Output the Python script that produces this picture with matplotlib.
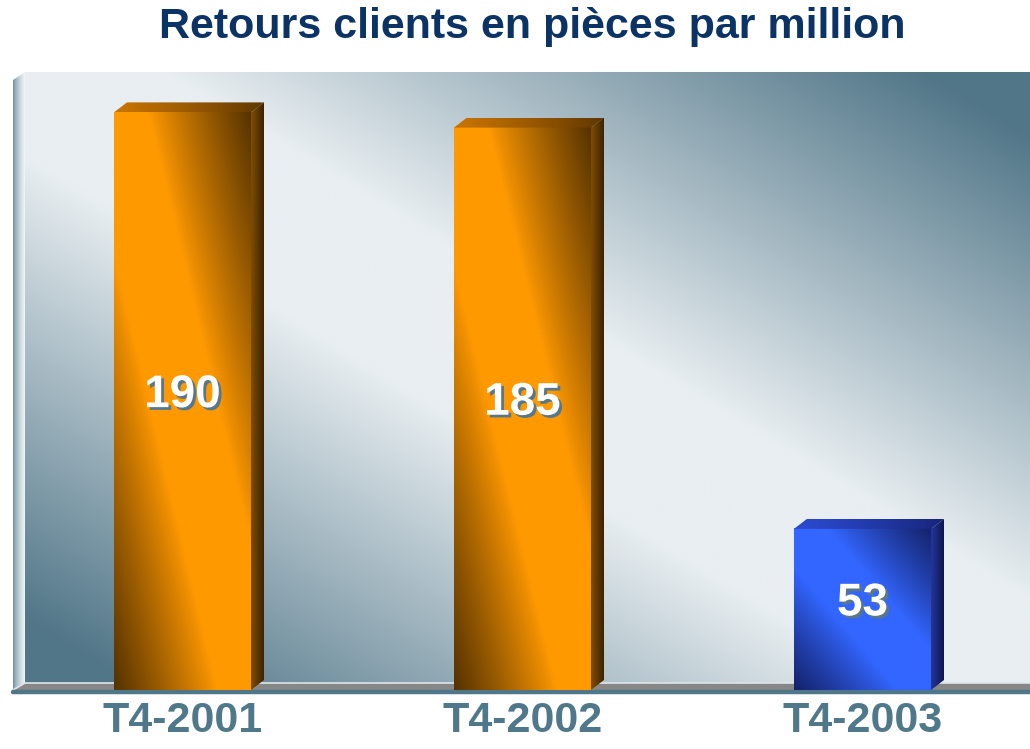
import matplotlib
matplotlib.use("Agg")
import matplotlib.pyplot as plt
import matplotlib.patheffects as pe
from matplotlib.patches import Polygon
from matplotlib.colors import to_rgb
import numpy as np

plt.rcParams['font.family'] = ['Liberation Sans', 'DejaVu Sans']

# data
title = "Retours clients en pièces par million"
quarters = ["T4-2001", "T4-2002", "T4-2003"]
values = [190, 185, 53]
bar_styles = ["orange", "orange", "blue"]

palette = {
    "orange": dict(bright="#ff9900", dark="#553200", top=("#c87400", "#5e3700"), side=("#7e4c00", "#3e2400")),
    "blue": dict(bright="#3366ff", dark="#14226a", top=("#2c4ad0", "#17257a"), side=("#22359a", "#0e1850")),
}

W_PX, H_PX = 1030, 749
fig = plt.figure(figsize=(W_PX / 100, H_PX / 100), dpi=100, facecolor="white")

# layout in pixels -> data units
px_x = 340.0          # px per category
px_y = 3.04           # px per unit
x0_px, base_px = 182.5, 690
ax_left, ax_right, ax_top, ax_bot = 10, 1030, 68, 698
ax = fig.add_axes([ax_left / W_PX, (H_PX - ax_bot) / H_PX,
                   (ax_right - ax_left) / W_PX, (ax_bot - ax_top) / H_PX])
xlim = (-(x0_px - ax_left) / px_x, (ax_right - x0_px) / px_x)
ylim = (-(ax_bot - base_px) / px_y, (base_px - ax_top) / px_y)


def dx(px):
    return px / px_x


def dy(px):
    return px / px_y


def grad_image(extent, rgb, clip=None, z=1):
    im = ax.imshow(rgb, extent=extent, origin="lower", aspect="auto",
                   interpolation="bilinear", zorder=z)
    if clip is not None:
        patch = Polygon(clip, closed=True, facecolor="none", edgecolor="none")
        ax.add_patch(patch)
        im.set_clip_path(patch)
    return im


def blend(c1, c2, t):
    c1, c2 = np.array(to_rgb(c1)), np.array(to_rgb(c2))
    return c1 * (1 - t[..., None]) + c2 * t[..., None]


# back wall gradient
wall_x0 = xlim[0] + dx(15)
wall_y0 = dy(7)
wall_y1 = dy(base_px - 72)
n = 300
u, v = np.meshgrid(np.linspace(0, 1, n), np.linspace(0, 1, n))
d = np.abs(u + v - 1)
t = np.clip((d - 0.14) / 0.76, 0, 1)
grad_image((wall_x0, xlim[1], wall_y0, wall_y1), blend("#e8eef1", "#517688", t), z=0)

# left side wall
lw = np.meshgrid(np.linspace(0, 1, 40), np.linspace(0, 1, 4))[0]
side_poly = [(xlim[0] + dx(3), -dy(0)), (wall_x0, wall_y0), (wall_x0, wall_y1),
             (xlim[0] + dx(3), wall_y1 - dy(8))]
grad_image((xlim[0] + dx(3), wall_x0, 0, wall_y1),
           blend("#6a8ea0", "#f2f6f8", lw ** 0.7), clip=side_poly, z=0.5)

# floor strip
floor = Polygon([(xlim[0] + dx(3), 0), (wall_x0, wall_y0), (xlim[1], wall_y0), (xlim[1], 0)],
                closed=True, facecolor="#878787", edgecolor="none", zorder=0.6)
ax.add_patch(floor)
ax.plot([wall_x0, xlim[1]], [wall_y0, wall_y0], color="#dde6ea", lw=1.2, zorder=0.7)
ax.plot([xlim[0] + dx(3), wall_x0], [0, wall_y0], color="#dde6ea", lw=1.2, zorder=0.7)
ax.plot([xlim[0] + dx(3), xlim[1]], [-dy(2), -dy(2)], color="#4e7789", lw=3.2,
        solid_capstyle="round", zorder=0.8)

# bars
bw = 0.403
ddx, ddy = dx(13), dy(10)
for i, (val, sty) in enumerate(zip(values, bar_styles)):
    p = palette[sty]
    xa, xb = i - bw / 2, i + bw / 2
    # front face
    uu, vv = np.meshgrid(np.linspace(0, 1, 120), np.linspace(0, 1, 240))
    s = np.abs(uu + vv - 1)
    tt = np.clip((s - 0.25) / 0.75, 0, 1) ** 0.9
    grad_image((xa, xb, 0, val), blend(p["bright"], p["dark"], tt), z=3)
    # top face
    top_poly = [(xa, val), (xa + ddx, val + ddy), (xb + ddx, val + ddy), (xb, val)]
    tu = np.meshgrid(np.linspace(0, 1, 120), np.linspace(0, 1, 6))[0]
    grad_image((xa, xb + ddx, val, val + ddy), blend(p["top"][0], p["top"][1], tu ** 1.2),
               clip=top_poly, z=3)
    # side face
    side = [(xb, 0), (xb + ddx, ddy), (xb + ddx, val + ddy), (xb, val)]
    su = np.meshgrid(np.linspace(0, 1, 12), np.linspace(0, 1, 6))[0]
    grad_image((xb, xb + ddx, 0, val + ddy), blend(p["side"][0], p["side"][1], su),
               clip=side, z=3)
    ax.text(i, val / 2 + 2, str(val), ha="center", va="center", color="white",
            fontsize=33, fontweight="bold", zorder=5,
            path_effects=[pe.withSimplePatchShadow(offset=(2, -2), shadow_rgbFace="#58788a",
                                                    alpha=1.0)])

ax.set_xlim(*xlim)
ax.set_ylim(*ylim)
ax.set_xticks(range(len(quarters)), quarters)
ax.set_yticks([])
ax.tick_params(axis="x", length=0, pad=2, labelsize=31, labelcolor="#4f788a")
for lbl in ax.get_xticklabels():
    lbl.set_fontweight("bold")
for sp in ax.spines.values():
    sp.set_visible(False)
ax.patch.set_visible(False)

fig.text(532 / W_PX, 1 - 27 / H_PX, title, ha="center", va="center",
         fontsize=31, fontweight="bold", color="#0c3366")

fig.savefig("out.png", dpi=100, facecolor="white")
